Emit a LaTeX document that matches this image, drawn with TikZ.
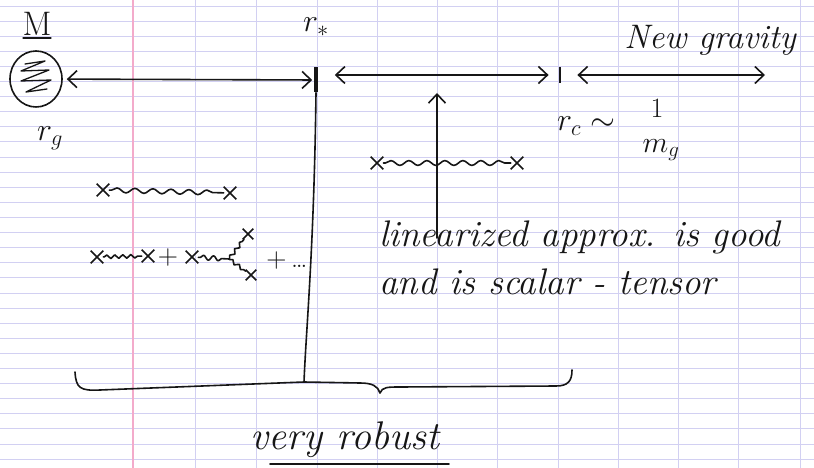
\RequirePackage{fix-cm}
\documentclass[tikz,border=0pt]{standalone}
\usetikzlibrary{arrows.meta,decorations.pathmorphing,shapes.misc,shapes.geometric}
\definecolor{ink}{HTML}{161616}
\definecolor{rulec}{HTML}{D2D0F2}
\definecolor{marginc}{HTML}{F3ABCB}
\begin{document}
\begin{tikzpicture}[x=1pt,y=-1pt,
  pen/.style={draw=ink,line width=1.6pt,line cap=round,line join=round},
  darr/.style={pen,{Straight Barb[length=9pt,width=17pt]}-{Straight Barb[length=9pt,width=17pt]}},
  uarr/.style={pen,-{Straight Barb[length=9pt,width=17pt]}},
  xmark/.style={cross out,draw=ink,line width=1.6pt,minimum size=11pt,inner sep=0pt},
  wavy/.style={pen,decorate,decoration={snake,amplitude=2.4pt,segment length=18pt,pre length=2pt,post length=3pt}},
  swavy/.style={pen,decorate,decoration={snake,amplitude=1.8pt,segment length=8pt,pre length=1pt,post length=2pt}},
  hand/.style={text=ink,font=\fontsize{35}{40}\selectfont\itshape,inner sep=0pt},
  lab/.style={text=ink,font=\fontsize{32}{32}\selectfont,inner sep=0pt},
  tick/.style={fill=ink,inner sep=0pt},
]
\fill[white] (0,0) rectangle (814,468);
\useasboundingbox (0,0) rectangle (814,468);
% paper ruling
\foreach \k in {0,...,30} \draw[rulec,line width=0.8pt] (0,6+15.1*\k) -- (814,6+15.1*\k);
\foreach \xx in {195,256,317,377,437,497,558,618,678,738,800} \draw[rulec,line width=0.9pt] (\xx,0) -- (\xx,468);
\draw[marginc,line width=1.2pt] (133,0) -- (133,468);

% mass
\node[lab,font=\fontsize{34}{34}\selectfont] (Mlab) at (37,24) {M};
\draw[pen,line width=1.2pt] (23,38) -- (51,38);
\node[pen,ellipse,minimum width=52pt,minimum height=56pt,inner sep=0pt] (mass) at (36,79) {};
\draw[pen,line width=1.3pt] (25,64) -- (45,61) -- (21,71) -- (49,70) -- (21,81) -- (51,80) -- (26,92) -- (47,89);
\node[lab] (rg) at (50,138) {$r_g$};

% ticks and arrows
\node[tick,minimum width=3.2pt,minimum height=25pt] (t1) at (316,80) {};
\node[tick,minimum width=2.4pt,minimum height=16pt] (t2) at (560,75) {};
\node[lab] (rstar) at (316,27) {$r_*$};
\coordinate (far) at (765,75);
\draw[darr,shorten <=4pt,shorten >=2pt] (mass) -- (t1);
\draw[darr,shorten <=17pt,shorten >=10pt] (t1.east |- t2) -- (t2);
\draw[darr,shorten <=16pt] (t2) -- (far);
\node[hand,font=\fontsize{34}{40}\selectfont\itshape] (newg) at (710,40) {New gravity};
\node[lab] (rc) at (586,126) {$r_c\sim$};
\node[lab,font=\fontsize{28}{28}\selectfont] (one) at (657,108) {$1$};
\node[lab,font=\fontsize{30}{30}\selectfont] (mg) at (661,150) {$m_g$};

% left diagrams
\node[xmark] (a1) at (103,190) {};
\node[xmark] (a2) at (230,193) {};
\draw[wavy] (a1) -- (a2);
\node[xmark] (b1) at (97,257) {};
\node[xmark] (b2) at (148,256) {};
\draw[swavy] (b1) -- (b2);
\node[lab,font=\fontsize{28}{28}\selectfont] (plus1) at (168,258) {+};
\node[xmark] (b3) at (192,257) {};
\coordinate (v) at (229,259);
\draw[wavy,decoration={segment length=10pt}] (b3) -- (v);
\node[xmark,minimum size=9pt] (b4) at (248,234) {};
\node[xmark,minimum size=9pt] (b5) at (251,275) {};
\draw[swavy] (v) -- (b4);
\draw[swavy] (v) -- (b5);
\node[lab,font=\fontsize{28}{28}\selectfont] (plus2) at (287,261) {+\,\dots};

% right diagram
\node[xmark] (c1) at (377,163) {};
\node[xmark] (c2) at (517,163) {};
\draw[wavy] (c1) -- (c2);
\coordinate (ub) at (437,238);
\coordinate (ut) at (437,93);
\draw[uarr] (ub) -- (ut);
\node[hand,anchor=base west,font=\fontsize{37}{40}\selectfont\itshape] (l1) at (379,246) {linearized approx. is good};
\node[hand,anchor=base west,font=\fontsize{37}{40}\selectfont\itshape] (l2) at (379,294) {and is scalar - tensor};

% main vertical line and brace
\coordinate (bj) at (304,382);
\draw[pen] (t1.south) .. controls (314,250) and (306,330) .. (bj);
\draw[pen] (75,372) .. controls (76,388) and (80,391) .. (100,390) -- (bj) -- (360,383) .. controls (372,383) and (378,386) .. (380,393) .. controls (382,387) and (388,387) .. (400,387) -- (556,386) .. controls (568,386) and (572,381) .. (572,370);
\node[hand,font=\fontsize{40}{44}\selectfont\itshape] (robust) at (345,440) {very robust};
\draw[pen] (270,464) -- (449,464);
\end{tikzpicture}
\end{document}
